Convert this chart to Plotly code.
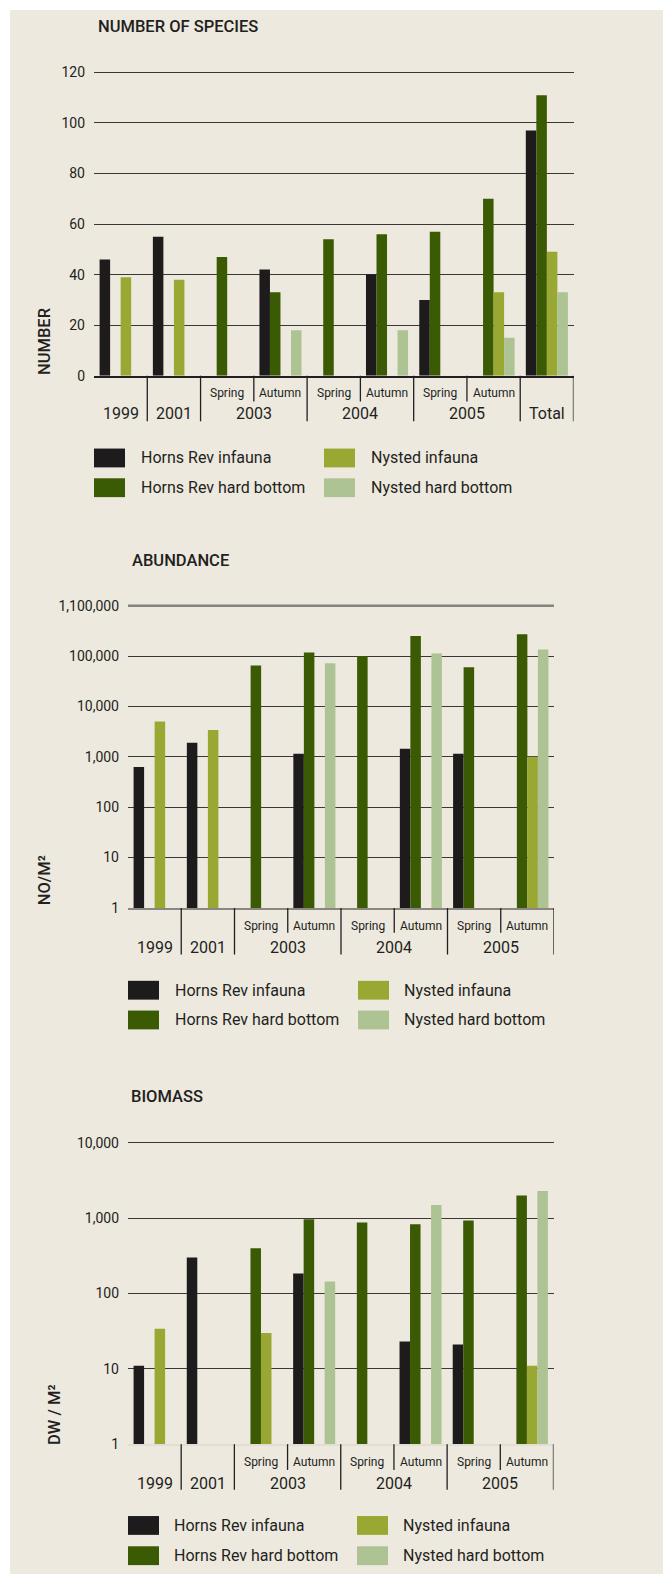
import plotly.graph_objects as go

W, H = 663, 1585

# ---------------- data ----------------
series_names = ["Horns Rev infauna", "Horns Rev hard bottom", "Nysted infauna", "Nysted hard bottom"]
series_colors = ["#1e1b1c", "#3a5a03", "#98a832", "#aec394"]

periods_species = ["1999", "2001", "2003 Spring", "2003 Autumn", "2004 Spring",
                   "2004 Autumn", "2005 Spring", "2005 Autumn", "Total"]
species_hr_infauna = [46, 55, None, 42, None, 40, 30, None, 97]
species_hr_hard = [None, None, 47, 33, 54, 56, 57, 70, 111]
species_ny_infauna = [39, 38, None, None, None, None, None, 33, 49]
species_ny_hard = [None, None, None, 18, None, 18, None, 15, 33]

periods = ["1999", "2001", "2003 Spring", "2003 Autumn", "2004 Spring",
           "2004 Autumn", "2005 Spring", "2005 Autumn"]
abundance_hr_infauna = [630, 1900, None, 1150, None, 1450, 1150, None]
abundance_hr_hard = [None, None, 65000, 118000, 100000, 250000, 60000, 270000]
abundance_ny_infauna = [5000, 3400, None, None, None, None, None, 1000]
abundance_ny_hard = [None, None, None, 72000, None, 112000, None, 135000]

biomass_hr_infauna = [11, 300, None, 185, None, 23, 21, None]
biomass_hr_hard = [None, None, 400, 970, 880, 830, 930, 2000]
biomass_ny_infauna = [34, None, 30, None, None, None, None, 11]
biomass_ny_hard = [None, None, None, 145, None, 1500, None, 2300]

species_tickvals = [0, 20, 40, 60, 80, 100, 120]
species_ticktext = ["0", "20", "40", "60", "80", "100", "120"]
abundance_tickvals = [1, 10, 100, 1000, 10000, 100000, 1000000]
abundance_ticktext = ["1", "10", "100", "1,000", "10,000", "100,000", "1,100,000"]
biomass_tickvals = [1, 10, 100, 1000, 10000]
biomass_ticktext = ["1", "10", "100", "1,000", "10,000"]

years_species = [("1999", [0]), ("2001", [1]), ("2003", [2, 3]), ("2004", [4, 5]),
                 ("2005", [6, 7]), ("Total", [8])]
years = [("1999", [0]), ("2001", [1]), ("2003", [2, 3]), ("2004", [4, 5]), ("2005", [6, 7])]
season_labels = ["", "", "Spring", "Autumn", "Spring", "Autumn", "Spring", "Autumn", ""]

# ---------------- layout helpers ----------------
FONT = "Roboto, Liberation Sans, Arial, sans-serif"
TXT = "#231f20"
GRID = "#3a3836"
BG = "#ede9df"


def px(x):
    return x / W


def py(y):
    return 1 - y / H


fig = go.Figure()
shapes = []
annotations = []
layout_axes = {}

# beige panel
shapes.append(dict(type="rect", xref="paper", yref="paper", x0=px(10), x1=px(663),
                   y0=py(1582), y1=py(4), fillcolor=BG, line=dict(width=0), layer="below"))

panels = [
    dict(idx=1, title="NUMBER OF SPECIES", ytitle="NUMBER", n=9, groups=years_species,
         series=[species_hr_infauna, species_hr_hard, species_ny_infauna, species_ny_hard],
         x0=94, x1=573.5, ybot=373, ytop=64.45, ytype="linear", yrange=[0, 121],
         tickvals=species_tickvals, ticktext=species_ticktext,
         title_xy=(96, 21), ytitle_xy=(44, 338),
         season_y=390, year_y=411, sep_full=419, sep_short=399,
         leg_x=(94, 324), leg_text_x=(138.5, 368.5), leg_y=(456, 486),
         topline=None, baseline=dict(color=TXT, width=1.5)),
    dict(idx=2, title="ABUNDANCE", ytitle="NO/M²", n=8, groups=years,
         series=[abundance_hr_infauna, abundance_hr_hard, abundance_ny_infauna, abundance_ny_hard],
         x0=128, x1=554, ybot=910, ytop=603, ytype="log", yrange=[0, 6.04],
         tickvals=abundance_tickvals, ticktext=abundance_ticktext,
         title_xy=(129.5, 559), ytitle_xy=(44, 882),
         season_y=928, year_y=950, sep_full=957, sep_short=935,
         leg_x=(128, 358), leg_text_x=(172.5, 402), leg_y=(993, 1023),
         topline=dict(color="#858380", width=2.5), baseline=dict(color="#8a8782", width=2)),
    dict(idx=3, title="BIOMASS", ytitle="DW / M²", n=8, groups=years,
         series=[biomass_hr_infauna, biomass_hr_hard, biomass_ny_infauna, biomass_ny_hard],
         x0=128, x1=553.5, ybot=1451, ytop=1144, ytype="log", yrange=[0, 4.04],
         tickvals=biomass_tickvals, ticktext=biomass_ticktext,
         title_xy=(129, 1100), ytitle_xy=(55, 1421.5),
         season_y=1468.5, year_y=1491, sep_full=1497, sep_short=1477,
         leg_x=(128, 357), leg_text_x=(172, 401), leg_y=(1533, 1563.5),
         topline=None, baseline=dict(color="#e2ded4", width=1.5)),
]

for p in panels:
    i = p["idx"]
    xa = "x" if i == 1 else f"x{i}"
    ya = "y" if i == 1 else f"y{i}"
    xkey = "xaxis" if i == 1 else f"xaxis{i}"
    ykey = "yaxis" if i == 1 else f"yaxis{i}"
    n = p["n"]
    for name, color, vals in zip(series_names, series_colors, p["series"]):
        fig.add_trace(go.Bar(x=list(range(n)), y=vals, name=name, marker_color=color,
                             marker_line_width=0, xaxis=xa, yaxis=ya, showlegend=False,
                             hoverinfo="skip"))
    layout_axes[xkey] = dict(domain=[px(p["x0"]), px(p["x1"])], anchor=ya,
                             range=[-0.5, n - 0.5], showticklabels=False, showgrid=False,
                             zeroline=False, showline=True, linecolor=p["baseline"]["color"],
                             linewidth=p["baseline"]["width"], layer="above traces",
                             ticks="", fixedrange=True)
    layout_axes[ykey] = dict(domain=[py(p["ybot"]), py(p["ytop"])], anchor=xa,
                             type=p["ytype"], range=p["yrange"], tickmode="array",
                             tickvals=p["tickvals"], ticktext=p["ticktext"],
                             showgrid=True, gridcolor=GRID, gridwidth=1.2, zeroline=False,
                             showline=False, ticks="", ticklabelstandoff=8,
                             tickfont=dict(family=FONT, size=14, color=TXT), fixedrange=True)
    if p["topline"]:
        shapes.append(dict(type="line", xref=f"{xa} domain", yref=ya, x0=0, x1=1,
                           y0=p["tickvals"][-1], y1=p["tickvals"][-1],
                           line=p["topline"]))

    # title
    annotations.append(dict(text=p["title"], xref="paper", yref="paper",
                            x=px(p["title_xy"][0]), y=py(p["title_xy"][1]),
                            xanchor="left", yanchor="middle", showarrow=False,
                            font=dict(family=FONT, size=16.5, color=TXT, weight=500)))
    # y-axis title
    annotations.append(dict(text=p["ytitle"], xref="paper", yref="paper",
                            x=px(p["ytitle_xy"][0]), y=py(p["ytitle_xy"][1]),
                            xanchor="center", yanchor="middle", textangle=-90, showarrow=False,
                            font=dict(family=FONT, size=16.5, color=TXT, weight=500)))
    # season labels
    for k in range(n):
        if season_labels[k]:
            annotations.append(dict(text=season_labels[k], xref=xa, yref="paper", x=k,
                                    y=py(p["season_y"]), xanchor="center", yanchor="middle",
                                    showarrow=False, font=dict(family=FONT, size=12, color=TXT)))
    # year labels and separators
    for label, idxs in p["groups"]:
        annotations.append(dict(text=label, xref=xa, yref="paper",
                                x=(idxs[0] + idxs[-1]) / 2, y=py(p["year_y"]),
                                xanchor="center", yanchor="middle", showarrow=False,
                                font=dict(family=FONT, size=16, color=TXT)))
        xe = idxs[-1] + 0.5
        shapes.append(dict(type="line", xref=xa, yref="paper", x0=xe, x1=xe,
                           y0=py(p["ybot"]), y1=py(p["sep_full"]),
                           line=dict(color=TXT, width=1.3)))
        if len(idxs) == 2:
            xm = idxs[0] + 0.5
            shapes.append(dict(type="line", xref=xa, yref="paper", x0=xm, x1=xm,
                               y0=py(p["ybot"]), y1=py(p["sep_short"]),
                               line=dict(color=TXT, width=1.3)))
    # legend (2 x 2)
    for s, (name, color) in enumerate(zip(series_names, series_colors)):
        col = 0 if s in (0, 1) else 1
        row = 0 if s in (0, 2) else 1
        cy = p["leg_y"][row]
        sx = p["leg_x"][col]
        shapes.append(dict(type="rect", xref="paper", yref="paper",
                           x0=px(sx), x1=px(sx + 31), y0=py(cy + 9.5), y1=py(cy - 9.5),
                           fillcolor=color, line=dict(width=0)))
        annotations.append(dict(text=name, xref="paper", yref="paper",
                                x=px(p["leg_text_x"][col]), y=py(cy),
                                xanchor="left", yanchor="middle", showarrow=False,
                                font=dict(family=FONT, size=16, color=TXT)))

fig.update_layout(
    width=W, height=H, margin=dict(l=0, r=0, t=0, b=0),
    paper_bgcolor="white", plot_bgcolor="rgba(0,0,0,0)",
    barmode="group", bargap=0.21, bargroupgap=0,
    shapes=shapes, annotations=annotations, showlegend=False,
    font=dict(family=FONT, color=TXT),
    **layout_axes,
)

fig.write_html("out.html", config={"displayModeBar": False},
               post_script="document.body.style.margin='0';document.body.style.overflow='hidden';")
